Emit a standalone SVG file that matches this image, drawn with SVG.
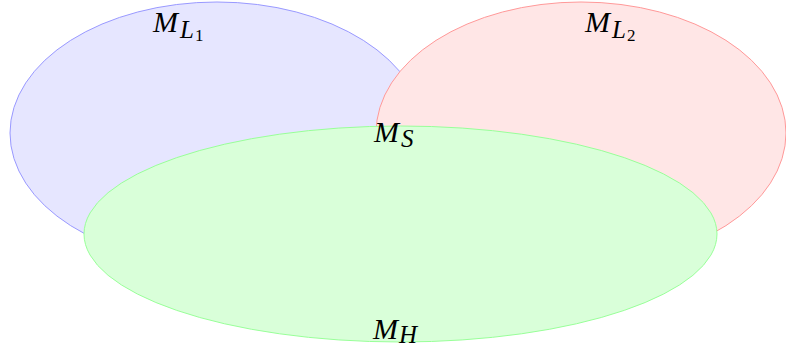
<svg xmlns="http://www.w3.org/2000/svg" width="786" height="353" viewBox="0 0 786 353">
<style>
.lbl{font-family:"Liberation Serif","DejaVu Serif",serif;font-style:italic;fill:#000}
.m{font-size:30px}
.s{font-size:25px}
.ss{font-size:17px;font-style:normal}
</style>
<rect width="786" height="353" fill="#fff"/>
<g id="ML1">
<ellipse cx="217" cy="133" rx="207" ry="131" fill="#e6e6ff" stroke="#9999ff" stroke-width="1"/>
</g>
<g id="ML2">
<ellipse cx="581" cy="133" rx="205" ry="131" fill="#ffe6e6" stroke="#ff9999" stroke-width="1"/>
</g>
<g id="MH">
<ellipse cx="400.5" cy="234" rx="316.5" ry="108" fill="#d9ffd9" stroke="#99ff99" stroke-width="1"/>
</g>
<g id="labels">
<text class="lbl" x="153" y="32"><tspan class="m" textLength="32">M</tspan><tspan class="s" dx="2" dy="6">L</tspan><tspan class="ss" dx="1" dy="3">1</tspan></text>
<text class="lbl" x="585" y="32"><tspan class="m" textLength="32">M</tspan><tspan class="s" dx="2" dy="6">L</tspan><tspan class="ss" dx="1" dy="3">2</tspan></text>
<text class="lbl" x="374" y="142"><tspan class="m" textLength="31">M</tspan><tspan class="s" dx="2" dy="5">S</tspan></text>
<text class="lbl" x="373" y="339"><tspan class="m" textLength="32">M</tspan><tspan class="s" dx="1" dy="4">H</tspan></text>
</g>
<g id="connectors"></g>
</svg>
